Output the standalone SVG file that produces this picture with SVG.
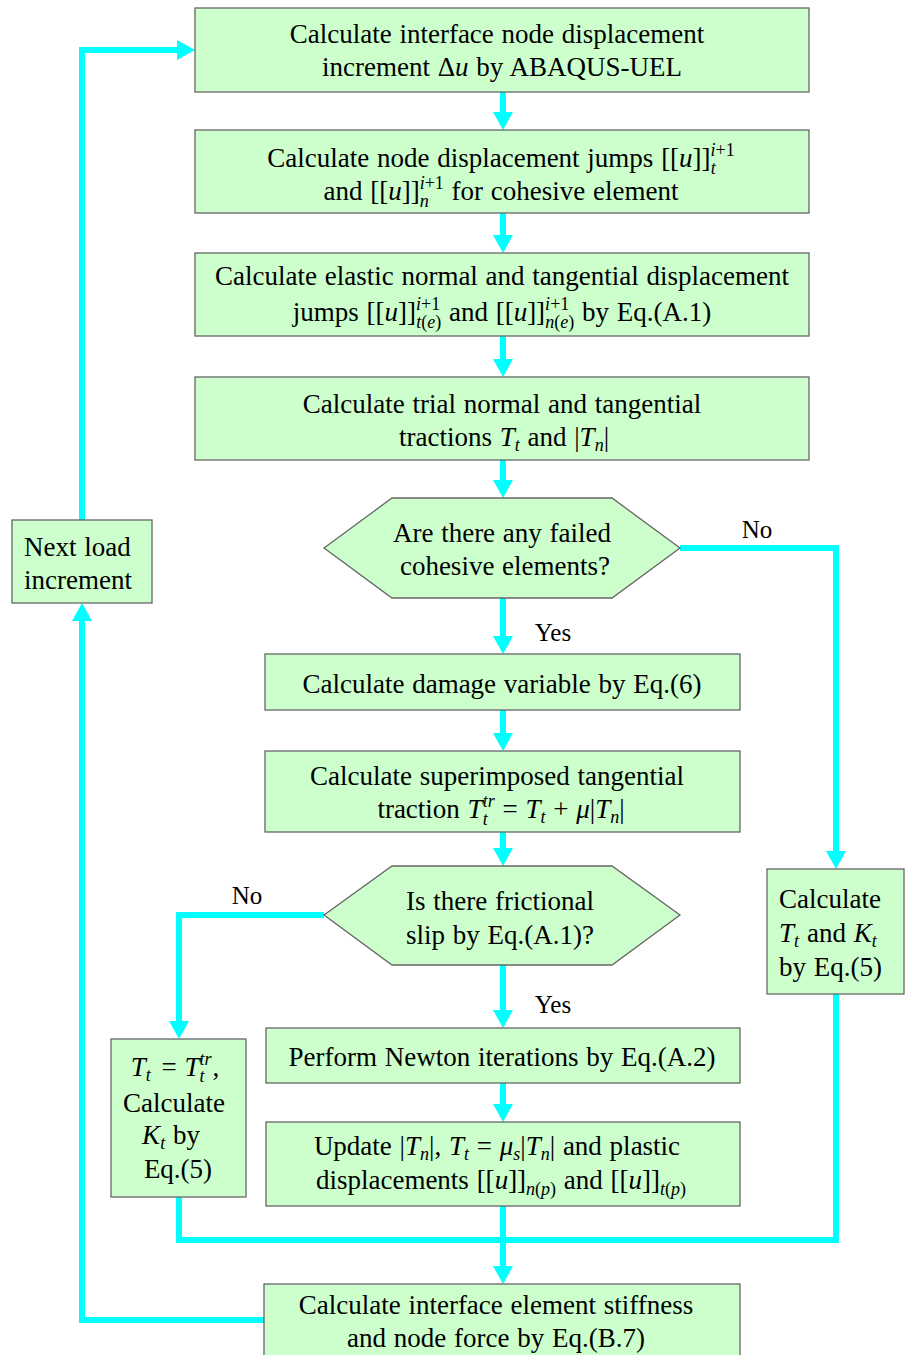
<svg xmlns="http://www.w3.org/2000/svg" width="905" height="1355" viewBox="0 0 905 1355">
<style>
.box{fill:#ccffcc;stroke:#666;stroke-width:1.3}
.t{font-family:"Liberation Serif","Times New Roman",serif;font-size:27px;fill:#000;text-anchor:middle;word-spacing:1px}
.lb{font-size:25px}
.l{text-anchor:start}
.m{font-style:italic}
.s{font-size:18px}
.c{fill:none;stroke:#00ffff;stroke-width:6}
</style>
<defs>
<marker id="ah" viewBox="0 0 18 20" refX="0" refY="10" markerWidth="18" markerHeight="20" markerUnits="userSpaceOnUse" orient="auto">
<path d="M0,0 L18,10 L0,20 z" fill="#00ffff"/>
</marker>
</defs>
<rect width="905" height="1355" fill="#fff"/>
<g id="connectors">
<path class="c" d="M503,92 V112" marker-end="url(#ah)"/>
<path class="c" d="M503,213 V235" marker-end="url(#ah)"/>
<path class="c" d="M503,336 V359" marker-end="url(#ah)"/>
<path class="c" d="M503,460 V480" marker-end="url(#ah)"/>
<path class="c" d="M503,598 V636" marker-end="url(#ah)"/>
<path class="c" d="M503,710 V733" marker-end="url(#ah)"/>
<path class="c" d="M503,832 V848" marker-end="url(#ah)"/>
<path class="c" d="M503,965 V1010" marker-end="url(#ah)"/>
<path class="c" d="M503,1083 V1104" marker-end="url(#ah)"/>
<path class="c" d="M503,1206 V1266" marker-end="url(#ah)"/>
<path class="c" d="M680,548 H836 V851" marker-end="url(#ah)"/>
<path class="c" d="M836,994 V1240 H179 V1197"/>
<path class="c" d="M324,915 H179 V1021" marker-end="url(#ah)"/>
<path class="c" d="M264,1320 H82 V621" marker-end="url(#ah)"/>
<path class="c" d="M82,520 V50 H177" marker-end="url(#ah)"/>
<text class="t lb" x="553" y="641">Yes</text>
<text class="t lb" x="757" y="538">No</text>
<text class="t lb" x="247" y="904">No</text>
<text class="t lb" x="553" y="1013">Yes</text>
</g>
<g id="n1">
<rect class="box" x="195" y="8" width="614" height="84"/>
<text class="t" x="497" y="43">Calculate interface node displacement</text>
<text class="t" x="502" y="76">increment  Δ<tspan class="m">u</tspan> by ABAQUS-UEL</text>
</g>
<g id="n2">
<rect class="box" x="195" y="130" width="614" height="83"/>
<text class="t" x="501" y="167">Calculate node displacement jumps [[<tspan class="m">u</tspan>]]<tspan class="s" dy="-11"><tspan class="m">i</tspan>+1</tspan><tspan class="s m" dx="-24" dy="18">t</tspan><tspan dx="19" dy="-7"></tspan></text>
<text class="t" x="501" y="200">and  [[<tspan class="m">u</tspan>]]<tspan class="s" dy="-11"><tspan class="m">i</tspan>+1</tspan><tspan class="s m" dx="-24" dy="18">n</tspan><tspan dx="15" dy="-7"> for cohesive element</tspan></text>
</g>
<g id="n3">
<rect class="box" x="195" y="253" width="614" height="83"/>
<text class="t" x="502" y="285">Calculate elastic normal and tangential displacement</text>
<text class="t" x="502" y="321">jumps [[<tspan class="m">u</tspan>]]<tspan class="s" dy="-11"><tspan class="m">i</tspan>+1</tspan><tspan class="s" dx="-24" dy="18"><tspan class="m">t</tspan>(<tspan class="m">e</tspan>)</tspan><tspan dy="-7"> and [[<tspan class="m">u</tspan>]]</tspan><tspan class="s" dy="-11"><tspan class="m">i</tspan>+1</tspan><tspan class="s" dx="-24" dy="18"><tspan class="m">n</tspan>(<tspan class="m">e</tspan>)</tspan><tspan dy="-7"> by Eq.(A.1)</tspan></text>
</g>
<g id="n4">
<rect class="box" x="195" y="377" width="614" height="83"/>
<text class="t" x="502" y="413">Calculate trial normal and tangential</text>
<text class="t" x="504" y="446">tractions <tspan class="m">T</tspan><tspan class="s m" dy="5">t</tspan><tspan dy="-5"> and |</tspan><tspan class="m">T</tspan><tspan class="s m" dy="5">n</tspan><tspan dy="-5">|</tspan></text>
</g>
<g id="n5">
<polygon class="box" points="324,548 392,498 612,498 680,548 612,598 392,598"/>
<text class="t" x="502" y="542">Are there any failed</text>
<text class="t" x="505" y="575">cohesive elements?</text>
</g>
<g id="n6">
<rect class="box" x="265" y="654" width="475" height="56"/>
<text class="t" x="502" y="693">Calculate damage variable by Eq.(6)</text>
</g>
<g id="n7">
<rect class="box" x="265" y="751" width="475" height="81"/>
<text class="t" x="497" y="785">Calculate superimposed tangential</text>
<text class="t" x="501" y="818">traction <tspan class="m">T</tspan><tspan class="s m" dy="-11">tr</tspan><tspan class="s m" dx="-12" dy="18">t</tspan><tspan dx="7" dy="-7"> = </tspan><tspan class="m">T</tspan><tspan class="s m" dy="5">t</tspan><tspan dy="-5"> + </tspan><tspan class="m">μ</tspan>|<tspan class="m">T</tspan><tspan class="s m" dy="5">n</tspan><tspan dy="-5">|</tspan></text>
</g>
<g id="n8">
<polygon class="box" points="324,915 392,866 612,866 680,915 612,965 392,965"/>
<text class="t" x="500" y="910">Is there frictional</text>
<text class="t" x="500" y="944">slip by Eq.(A.1)?</text>
</g>
<g id="n9">
<rect class="box" x="266" y="1028" width="474" height="55"/>
<text class="t" x="502" y="1066">Perform Newton iterations by Eq.(A.2)</text>
</g>
<g id="n10">
<rect class="box" x="266" y="1122" width="474" height="84"/>
<text class="t" x="497" y="1155">Update |<tspan class="m">T</tspan><tspan class="s m" dy="5">n</tspan><tspan dy="-5">|,  </tspan><tspan class="m">T</tspan><tspan class="s m" dy="5">t</tspan><tspan dy="-5"> = </tspan><tspan class="m">μ</tspan><tspan class="s m" dy="5">s</tspan><tspan dy="-5">|</tspan><tspan class="m">T</tspan><tspan class="s m" dy="5">n</tspan><tspan dy="-5">| and plastic</tspan></text>
<text class="t" x="501" y="1189">displacements [[<tspan class="m">u</tspan>]]<tspan class="s" dy="6"><tspan class="m">n</tspan>(<tspan class="m">p</tspan>)</tspan><tspan dy="-6">  and  [[<tspan class="m">u</tspan>]]</tspan><tspan class="s" dy="6"><tspan class="m">t</tspan>(<tspan class="m">p</tspan>)</tspan></text>
</g>
<g id="n11">
<rect class="box" x="111" y="1039" width="135" height="158"/>
<text class="t" x="175" y="1076"><tspan class="m">T</tspan><tspan class="s m" dy="5">t</tspan><tspan dy="-5" dx="3"> = </tspan><tspan class="m">T</tspan><tspan class="s m" dy="-11">tr</tspan><tspan class="s m" dx="-12" dy="17">t</tspan><tspan dx="8" dy="-6">,</tspan></text>
<text class="t" x="174" y="1112">Calculate</text>
<text class="t" x="171" y="1144"><tspan class="m">K</tspan><tspan class="s m" dy="5">t</tspan><tspan dy="-5"> by</tspan></text>
<text class="t" x="178" y="1178">Eq.(5)</text>
</g>
<g id="n12">
<rect class="box" x="767" y="869" width="137" height="125"/>
<text class="t l" x="779" y="908">Calculate</text>
<text class="t l" x="779" y="942"><tspan class="m">T</tspan><tspan class="s m" dy="5">t</tspan><tspan dy="-5" dx="8">and </tspan><tspan class="m">K</tspan><tspan class="s m" dy="5">t</tspan></text>
<text class="t l" x="779" y="976">by Eq.(5)</text>
</g>
<g id="n13">
<rect class="box" x="12" y="520" width="140" height="83"/>
<text class="t l" x="24" y="556">Next load</text>
<text class="t l" x="24" y="589">increment</text>
</g>
<g id="n14">
<rect class="box" x="264" y="1284" width="476" height="80"/>
<text class="t" x="496" y="1314">Calculate interface element stiffness</text>
<text class="t" x="496" y="1347">and node force by Eq.(B.7)</text>
</g>
</svg>
